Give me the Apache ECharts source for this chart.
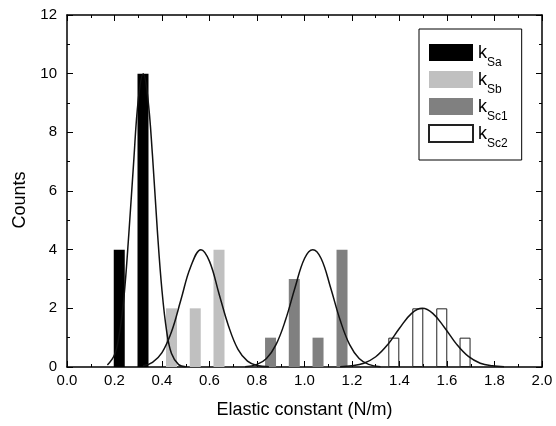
<!DOCTYPE html>
<html>
<head>
<meta charset="utf-8">
<script src="https://cdn.jsdelivr.net/npm/echarts@6/dist/echarts.min.js"></script>
<style>
  html, body { margin: 0; padding: 0; background: #fff; }
  #chart { width: 556px; height: 426px; }
</style>
</head>
<body>
<div id="chart"></div>
<script>
// histogram bars: [position, count]
const barsSa = [[0.22, 4], [0.32, 10]];
const barsSb = [[0.44, 2], [0.54, 2], [0.64, 4]];
const barsSc1 = [[0.857, 1], [0.957, 3], [1.057, 1], [1.158, 4]];
const barsSc2 = [[1.376, 1], [1.477, 2], [1.578, 2], [1.676, 1]];

// fitted curves
const fitSa = [[0.17, 0.07], [0.2, 0.42], [0.22, 1.1], [0.24, 2.4], [0.26, 4.5], [0.28, 6.9], [0.3, 9.1],
  [0.321, 10], [0.34, 9.2], [0.36, 7.2], [0.38, 4.7], [0.4, 2.6], [0.42, 1.2], [0.44, 0.46], [0.47, 0.08], [0.5, 0.01]];
const fitSb = [[0.32, 0.04], [0.36, 0.16], [0.4, 0.49], [0.44, 1.2], [0.48, 2.3], [0.52, 3.4], [0.564, 4],
  [0.6, 3.6], [0.64, 2.5], [0.68, 1.4], [0.72, 0.6], [0.76, 0.2], [0.8, 0.05], [0.85, 0.01]];
const fitSc1 = [[0.75, 0.01], [0.8, 0.09], [0.84, 0.29], [0.88, 0.76], [0.92, 1.6], [0.96, 2.7], [1.0, 3.7],
  [1.035, 4], [1.07, 3.7], [1.11, 2.7], [1.15, 1.6], [1.19, 0.76], [1.23, 0.29], [1.27, 0.09], [1.32, 0.01]];
const fitSc2 = [[1.15, 0.01], [1.2, 0.04], [1.25, 0.13], [1.3, 0.35], [1.35, 0.76], [1.4, 1.32], [1.45, 1.82],
  [1.496, 2], [1.54, 1.83], [1.59, 1.34], [1.64, 0.78], [1.69, 0.36], [1.74, 0.13], [1.79, 0.04], [1.84, 0.01]];

const names = ['k_Sa', 'k_Sb', 'k_Sc1', 'k_Sc2'];
const subs = { k_Sa: 'Sa', k_Sb: 'Sb', k_Sc1: 'Sc1', k_Sc2: 'Sc2' };

const FONT = 'Liberation Sans, Arial, sans-serif';

const chart = echarts.init(document.getElementById('chart'));

function axisX(pos, showLabel) {
  return {
    type: 'value',
    position: pos,
    min: 0,
    max: 2,
    interval: 0.2,
    axisLine: { show: true, onZero: false, lineStyle: { color: '#000', width: 1.5 } },
    axisTick: { show: true, inside: true, length: 6, lineStyle: { color: '#000', width: 1 } },
    minorTick: { show: true, splitNumber: 2, length: 3, lineStyle: { color: '#000', width: 1 } },
    splitLine: { show: false },
    axisLabel: {
      show: showLabel,
      margin: 6,
      color: '#000',
      fontSize: 15,
      fontFamily: FONT,
      formatter: (v) => v.toFixed(1),
    },
  };
}

function axisY(pos, showLabel) {
  return {
    type: 'value',
    position: pos,
    min: 0,
    max: 12,
    interval: 2,
    axisLine: { show: true, onZero: false, lineStyle: { color: '#000', width: 1.5 } },
    axisTick: { show: true, inside: true, length: 6, lineStyle: { color: '#000', width: 1 } },
    minorTick: { show: true, splitNumber: 2, length: 3, lineStyle: { color: '#000', width: 1 } },
    splitLine: { show: false },
    axisLabel: { show: showLabel, margin: 10, color: '#000', fontSize: 15, fontFamily: FONT },
  };
}

const xBottom = axisX('bottom', true);
xBottom.name = 'Elastic constant (N/m)';
xBottom.nameLocation = 'middle';
xBottom.nameGap = 34;
xBottom.nameTextStyle = { fontSize: 18, color: '#000', fontFamily: FONT };

const yLeft = axisY('left', true);
yLeft.name = 'Counts';
yLeft.nameLocation = 'middle';
yLeft.nameGap = 35;
yLeft.nameTextStyle = { fontSize: 18, color: '#000', fontFamily: FONT, padding: [0, 18, 0, 0] };

function barSeries(name, data, style) {
  return {
    name: name,
    type: 'bar',
    data: data,
    barWidth: 11,
    barGap: '-100%',
    itemStyle: style,
  };
}

function fitSeries(data) {
  return {
    type: 'line',
    data: data,
    smooth: 0.4,
    symbol: 'none',
    silent: true,
    lineStyle: { color: '#111', width: 1.5 },
    z: 3,
  };
}

const option = {
  animation: false,
  backgroundColor: '#fff',
  grid: { left: 67, right: 14, top: 15, bottom: 59 },
  legend: {
    data: names,
    orient: 'vertical',
    left: 419,
    top: 29,
    icon: 'rect',
    itemWidth: 44,
    itemHeight: 17,
    itemGap: -6,
    padding: [7, 14, 10, 9],
    borderColor: '#000',
    borderWidth: 1,
    selectedMode: false,
    formatter: (n) => '{k|k}{s|' + subs[n] + '}',
    textStyle: {
      color: '#000',
      fontFamily: FONT,
      rich: {
        k: { fontSize: 18, fontFamily: FONT, color: '#000', lineHeight: 18, padding: [2, 0, 0, 0] },
        s: { fontSize: 12, fontFamily: FONT, color: '#000', lineHeight: 12, padding: [21, 0, 0, 0] },
      },
    },
  },
  xAxis: [xBottom, axisX('top', false)],
  yAxis: [yLeft, axisY('right', false)],
  series: [
    barSeries('k_Sa', barsSa, { color: '#000' }),
    barSeries('k_Sb', barsSb, { color: '#c0c0c0' }),
    barSeries('k_Sc1', barsSc1, { color: '#808080' }),
    barSeries('k_Sc2', barsSc2, { color: '#fff', borderColor: '#222', borderWidth: 1 }),
    fitSeries(fitSa),
    fitSeries(fitSb),
    fitSeries(fitSc1),
    fitSeries(fitSc2),
  ],
};

chart.setOption(option);
</script>
</body>
</html>
